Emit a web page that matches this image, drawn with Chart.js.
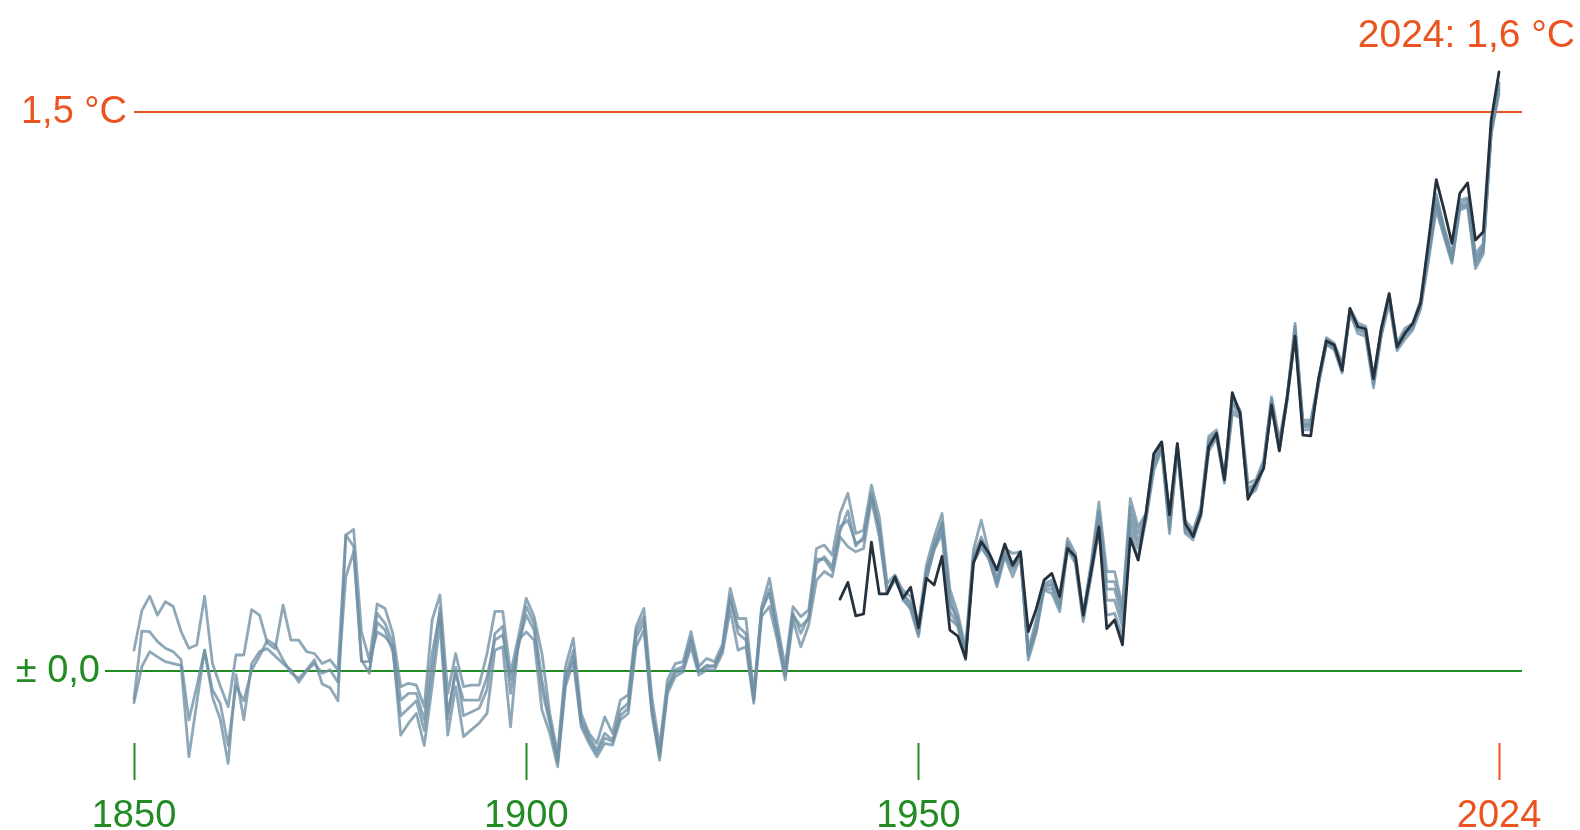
<!DOCTYPE html>
<html>
<head>
<meta charset="utf-8">
<script src="https://cdn.jsdelivr.net/npm/chart.js@4.4.1/dist/chart.umd.min.js"></script>
<style>
  html, body { margin: 0; padding: 0; background: #ffffff; }
  canvas { display: block; }
</style>
</head>
<body>
<canvas id="chart" width="1580" height="830"></canvas>
<script>
// Global mean temperature anomaly (°C) relative to 1850–1900, annual means.

const berkeleyStart = 1850;
const berkeley = [
  0.056, 0.162, 0.201, 0.150, 0.186, 0.173, 0.106, 0.061, 0.070, 0.201,
  0.020, -0.040, -0.096, 0.043, 0.043, 0.165, 0.150, 0.075, 0.060, 0.177,
  0.083, 0.083, 0.052, 0.047, 0.020, 0.030, 0.003, 0.365, 0.380, 0.105,
  0.030, 0.180, 0.168, 0.100, -0.042, -0.033, -0.038, -0.096, 0.137, 0.204,
  -0.060, 0.047, -0.042, -0.038, -0.038, 0.047, 0.160, 0.160, -0.006, 0.092,
  0.195, 0.146, 0.047, -0.114, -0.221, 0.012, 0.088, -0.114, -0.167, -0.194,
  -0.123, -0.167, -0.078, -0.064, 0.119, 0.168, -0.069, -0.203, -0.024, 0.020,
  0.025, 0.106, 0.012, 0.034, 0.025, 0.070, 0.222, 0.141, 0.141, -0.060,
  0.173, 0.249, 0.128, 0.012, 0.173, 0.146, 0.164, 0.329, 0.338, 0.311,
  0.423, 0.477, 0.369, 0.378, 0.499, 0.414, 0.235, 0.258, 0.217, 0.200,
  0.128, 0.284, 0.360, 0.423, 0.220, 0.155, 0.065, 0.325, 0.405, 0.316,
  0.271, 0.329, 0.316, 0.320, 0.056, 0.137, 0.235, 0.244, 0.200, 0.356,
  0.316, 0.155, 0.289, 0.454, 0.267, 0.267, 0.173, 0.463, 0.387, 0.423,
  0.584, 0.615, 0.419, 0.611, 0.405, 0.378, 0.440, 0.630, 0.647, 0.522,
  0.736, 0.700, 0.504, 0.513, 0.566, 0.736, 0.620, 0.736, 0.933, 0.673,
  0.673, 0.780, 0.895, 0.880, 0.825, 0.973, 0.934, 0.925, 0.790, 0.920,
  1.013, 0.880, 0.920, 0.933, 0.995, 1.139, 1.280, 1.190, 1.120, 1.264,
  1.270, 1.120, 1.148, 1.460, 1.580
];

const hadcrutStart = 1850;
const hadcrut = [
  -0.075, 0.107, 0.106, 0.079, 0.061, 0.052, 0.030, -0.131, -0.042, 0.056,
  -0.051, -0.087, -0.200, -0.040, -0.080, 0.003, 0.040, 0.083, 0.070, 0.030,
  -0.005, -0.020, 0.003, 0.030, -0.035, -0.045, -0.080, 0.365, 0.334, 0.030,
  -0.006, 0.155, 0.128, 0.074, -0.078, -0.060, -0.060, -0.131, 0.047, 0.155,
  -0.114, -0.006, -0.078, -0.078, -0.078, -0.015, 0.083, 0.097, -0.024, 0.065,
  0.173, 0.128, -0.024, -0.131, -0.239, -0.015, 0.056, -0.131, -0.176, -0.212,
  -0.167, -0.185, -0.105, -0.087, 0.106, 0.146, -0.096, -0.221, -0.042, 0.003,
  0.012, 0.088, -0.002, 0.016, 0.012, 0.061, 0.200, 0.101, 0.083, -0.078,
  0.164, 0.208, 0.106, -0.006, 0.155, 0.101, 0.146, 0.289, 0.307, 0.280,
  0.387, 0.405, 0.343, 0.352, 0.477, 0.387, 0.217, 0.249, 0.208, 0.182,
  0.110, 0.262, 0.343, 0.396, 0.180, 0.140, 0.050, 0.310, 0.360, 0.310,
  0.250, 0.320, 0.290, 0.315, 0.045, 0.120, 0.225, 0.230, 0.180, 0.340,
  0.300, 0.145, 0.270, 0.420, 0.220, 0.220, 0.140, 0.420, 0.350, 0.415,
  0.560, 0.605, 0.390, 0.600, 0.385, 0.365, 0.430, 0.615, 0.635, 0.515,
  0.715, 0.690, 0.485, 0.500, 0.556, 0.720, 0.605, 0.732, 0.915, 0.660,
  0.660, 0.775, 0.885, 0.870, 0.810, 0.965, 0.920, 0.910, 0.775, 0.910,
  1.000, 0.870, 0.905, 0.925, 0.985, 1.120, 1.260, 1.180, 1.105, 1.250,
  1.255, 1.100, 1.135, 1.450, 1.565
];

const noaaStart = 1850;
const noaa = [
  -0.085, 0.012, 0.052, 0.038, 0.025, 0.020, 0.015, -0.230, -0.085, 0.056,
  -0.070, -0.130, -0.248, -0.010, -0.131, 0.020, 0.052, 0.060, 0.040, 0.020,
  0.003, -0.030, 0.000, 0.020, -0.006, 0.003, -0.030, 0.253, 0.320, 0.025,
  0.025, 0.105, 0.092, 0.065, -0.172, -0.140, -0.114, -0.200, -0.042, 0.128,
  -0.172, -0.042, -0.176, -0.158, -0.140, -0.114, 0.056, 0.065, -0.150, 0.083,
  0.105, 0.083, -0.105, -0.167, -0.257, -0.042, 0.025, -0.149, -0.194, -0.230,
  -0.194, -0.199, -0.131, -0.114, 0.065, 0.110, -0.114, -0.239, -0.060, -0.015,
  -0.002, 0.065, -0.011, 0.003, 0.003, 0.047, 0.164, 0.056, 0.065, -0.087,
  0.146, 0.173, 0.083, -0.024, 0.137, 0.065, 0.123, 0.244, 0.267, 0.253,
  0.360, 0.334, 0.320, 0.329, 0.459, 0.360, 0.208, 0.244, 0.200, 0.164,
  0.092, 0.244, 0.325, 0.369, 0.140, 0.120, 0.030, 0.290, 0.330, 0.300,
  0.226, 0.307, 0.253, 0.307, 0.030, 0.101, 0.217, 0.208, 0.159, 0.325,
  0.289, 0.132, 0.253, 0.378, 0.150, 0.155, 0.092, 0.378, 0.298, 0.405,
  0.539, 0.593, 0.369, 0.593, 0.369, 0.352, 0.415, 0.590, 0.625, 0.504,
  0.690, 0.680, 0.468, 0.486, 0.548, 0.710, 0.591, 0.727, 0.899, 0.647,
  0.647, 0.770, 0.876, 0.862, 0.800, 0.960, 0.906, 0.898, 0.760, 0.900,
  0.987, 0.860, 0.890, 0.915, 0.970, 1.100, 1.237, 1.165, 1.094, 1.237,
  1.246, 1.080, 1.120, 1.440, 1.550
];

const gistempStart = 1880;
const gistemp = [
  0.000, 0.130, 0.110, 0.050, -0.120, -0.100, -0.080, -0.160, 0.000, 0.170,
  -0.130, 0.010, -0.120, -0.110, -0.100, -0.050, 0.100, 0.120, -0.060, 0.070,
  0.150, 0.110, -0.050, -0.140, -0.245, -0.030, 0.040, -0.140, -0.185, -0.220,
  -0.180, -0.190, -0.120, -0.100, 0.090, 0.130, -0.100, -0.230, -0.050, -0.005,
  0.005, 0.080, 0.000, 0.010, 0.015, 0.055, 0.190, 0.120, 0.100, -0.070,
  0.160, 0.220, 0.100, -0.015, 0.150, 0.120, 0.140, 0.300, 0.300, 0.270,
  0.375, 0.430, 0.335, 0.360, 0.470, 0.380, 0.210, 0.250, 0.205, 0.180,
  0.100, 0.270, 0.330, 0.400, 0.200, 0.130, 0.040, 0.300, 0.350, 0.305,
  0.240, 0.315, 0.280, 0.310, 0.040, 0.115, 0.220, 0.220, 0.170, 0.335,
  0.295, 0.140, 0.260, 0.400, 0.190, 0.190, 0.120, 0.400, 0.330, 0.410,
  0.550, 0.600, 0.380, 0.598, 0.375, 0.360, 0.420, 0.600, 0.630, 0.510,
  0.700, 0.685, 0.475, 0.495, 0.552, 0.715, 0.600, 0.730, 0.905, 0.655,
  0.655, 0.772, 0.880, 0.865, 0.805, 0.962, 0.915, 0.905, 0.770, 0.905,
  0.995, 0.865, 0.900, 0.920, 0.980, 1.110, 1.250, 1.170, 1.100, 1.245,
  1.250, 1.090, 1.130, 1.445, 1.560
];

const jraStart = 1948;
const jra = [
  0.190, 0.170, 0.100, 0.250, 0.330, 0.380, 0.160, 0.125, 0.045, 0.305,
  0.340, 0.300,
  0.235, 0.310, 0.270, 0.312, 0.050, 0.110, 0.230, 0.235, 0.190, 0.345,
  0.305, 0.150, 0.280, 0.430, 0.240, 0.240, 0.160, 0.440, 0.370, 0.420,
  0.570, 0.610, 0.400, 0.605, 0.395, 0.370, 0.435, 0.620, 0.640, 0.520,
  0.725, 0.695, 0.490, 0.505, 0.560, 0.730, 0.610, 0.735, 0.925, 0.665,
  0.665, 0.780, 0.890, 0.875, 0.820, 0.970, 0.925, 0.920, 0.785, 0.915,
  1.005, 0.875, 0.910, 0.930, 0.990, 1.130, 1.270, 1.185, 1.110, 1.255,
  1.265, 1.110, 1.140, 1.455, 1.575
];

const era5Start = 1940;
const era5 = [
  0.193, 0.238, 0.148, 0.153, 0.346, 0.207, 0.207, 0.253, 0.195, 0.225,
  0.116, 0.249, 0.231, 0.308, 0.110, 0.094, 0.034, 0.289, 0.347, 0.316,
  0.271, 0.341, 0.284, 0.320, 0.106, 0.166, 0.244, 0.262, 0.200, 0.329,
  0.307, 0.150, 0.267, 0.387, 0.114, 0.137, 0.070, 0.356, 0.298, 0.423,
  0.583, 0.615, 0.419, 0.610, 0.396, 0.361, 0.423, 0.602, 0.638, 0.513,
  0.747, 0.691, 0.461, 0.504, 0.544, 0.714, 0.591, 0.736, 0.899, 0.633,
  0.631, 0.785, 0.886, 0.875, 0.807, 0.973, 0.924, 0.918, 0.785, 0.920,
  1.013, 0.870, 0.906, 0.933, 0.987, 1.152, 1.319, 1.237, 1.148, 1.282,
  1.310, 1.157, 1.179, 1.479, 1.608
];

const xTickYears = [1850, 1900, 1950, 2024];
const yRefValues = [0, 1.5];
const yRefLabels = ['± 0,0', '1,5 °C'];

const GREEN = '#238b23';
const ORANGE = '#ea5420';
const GREY = 'rgba(112, 143, 164, 0.78)';
const DARK = '#26313e';
const FONT = '"Liberation Sans", Arial, sans-serif';

function toPoints(start, values) {
  return values.map((v, i) => ({ x: start + i, y: v }));
}

function greySeries(label, start, values) {
  return {
    label,
    data: toPoints(start, values),
    borderColor: GREY,
    borderWidth: 2.8,
    clip: false
  };
}

const lastYear = era5Start + era5.length - 1;
const lastValue = era5[era5.length - 1];
const refColor = v => (v === 0 ? GREEN : ORANGE);

// Reference labels on the left, and the latest-year annotation at the top right.
const annotations = {
  id: 'annotations',
  afterDraw(chart) {
    const { ctx, chartArea, scales: { y } } = chart;
    ctx.save();
    ctx.font = `38px ${FONT}`;
    ctx.textAlign = 'right';
    ctx.textBaseline = 'middle';
    yRefValues.forEach((v, i) => {
      ctx.fillStyle = refColor(v);
      const right = v === 0 ? chartArea.left - 34 : chartArea.left - 7;
      ctx.fillText(yRefLabels[i], right, y.getPixelForValue(v));
    });
    ctx.fillStyle = ORANGE;
    ctx.textBaseline = 'alphabetic';
    ctx.font = `39px ${FONT}`;
    const text = `${lastYear}: ${lastValue.toFixed(1).replace('.', ',')} °C`;
    ctx.fillText(text, chartArea.right + 53, 47);
    ctx.restore();
  }
};

new Chart(document.getElementById('chart'), {
  type: 'line',
  data: {
    datasets: [
      {
        label: 'ERA5',
        data: toPoints(era5Start, era5),
        borderColor: DARK,
        borderWidth: 2.8,
        clip: false
      },
      greySeries('JRA-3Q', jraStart, jra),
      greySeries('GISTEMP', gistempStart, gistemp),
      greySeries('NOAAGlobalTemp', noaaStart, noaa),
      greySeries('HadCRUT5', hadcrutStart, hadcrut),
      greySeries('Berkeley Earth', berkeleyStart, berkeley)
    ]
  },
  options: {
    responsive: false,
    animation: false,
    layout: { padding: { left: 105, right: 58, top: 19, bottom: -24 } },
    elements: {
      point: { radius: 0, hoverRadius: 0 },
      line: { tension: 0, borderJoinStyle: 'round', borderCapStyle: 'round', fill: false }
    },
    plugins: {
      legend: { display: false },
      tooltip: { enabled: false }
    },
    scales: {
      x: {
        type: 'linear',
        min: 1850,
        max: 2026.93,
        afterBuildTicks: scale => { scale.ticks = xTickYears.map(v => ({ value: v })); },
        border: { display: false },
        grid: {
          drawOnChartArea: false,
          drawTicks: true,
          tickLength: 37,
          tickWidth: 2,
          tickColor: c => (c.tick && c.tick.value === lastYear ? ORANGE : GREEN)
        },
        ticks: {
          autoSkip: false,
          maxRotation: 0,
          padding: 18,
          font: { family: FONT, size: 38, lineHeight: 1 },
          color: c => (c.tick && c.tick.value === lastYear ? ORANGE : GREEN),
          callback: v => String(v)
        }
      },
      y: {
        min: -0.1932,
        max: 1.75,
        afterBuildTicks: scale => { scale.ticks = yRefValues.map(v => ({ value: v })); },
        border: { display: false },
        grid: {
          drawTicks: true,
          tickLength: 29,
          lineWidth: 2,
          color: c => (c.tick ? refColor(c.tick.value) : 'transparent'),
          tickColor: c => (c.tick && c.tick.value === 0 ? GREEN : 'rgba(0,0,0,0)')
        },
        ticks: { display: false }
      }
    }
  },
  plugins: [annotations]
});
</script>
</body>
</html>
